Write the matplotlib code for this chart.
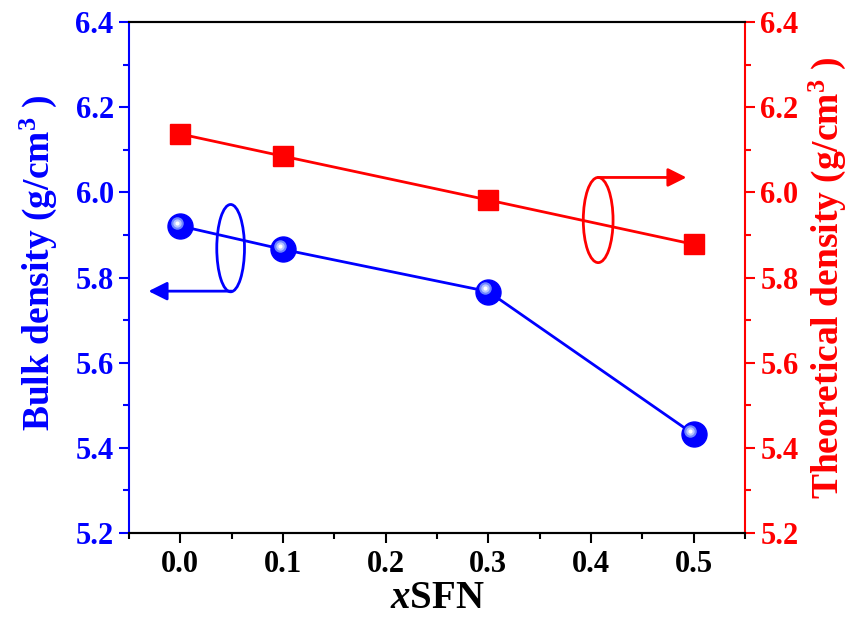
import matplotlib
matplotlib.use("Agg")
import matplotlib.pyplot as plt
import matplotlib.transforms as mtransforms
from matplotlib.patches import Ellipse
from matplotlib.ticker import MultipleLocator, FormatStrFormatter

plt.rcParams['font.family'] = ['Liberation Serif', 'DejaVu Serif']
plt.rcParams['font.weight'] = 'bold'
plt.rcParams['mathtext.fontset'] = 'custom'
plt.rcParams['mathtext.rm'] = 'Liberation Serif:bold'
plt.rcParams['mathtext.it'] = 'Liberation Serif:bold:italic'
plt.rcParams['mathtext.bf'] = 'Liberation Serif:bold'

x_sfn = [0.0, 0.1, 0.3, 0.5]
bulk_density = [5.921, 5.866, 5.767, 5.432]
theoretical_density = [6.137, 6.085, 5.982, 5.878]
xticks = [0.0, 0.1, 0.2, 0.3, 0.4, 0.5]
yticks = [5.2, 5.4, 5.6, 5.8, 6.0, 6.2, 6.4]

BLUE = '#0000ff'
RED = '#ff0000'

fig = plt.figure(figsize=(8.56, 6.24), dpi=100)
ax = fig.add_axes([0.1507, 0.1458, 0.7196, 0.8189])
ax2 = ax.twinx()

ax.set_xlim(-0.05, 0.55)
ax.set_ylim(5.2, 6.4)
ax2.set_ylim(5.2, 6.4)

# blue series with sphere-like markers
ax.plot(x_sfn, bulk_density, color=BLUE, lw=2, zorder=3)
ax.plot(x_sfn, bulk_density, ls='none', marker='o', ms=18, mfc=BLUE, mec=BLUE, zorder=4)
hl1 = mtransforms.offset_copy(ax.transData, fig=fig, x=-2.5, y=2.5, units='points')
ax.plot(x_sfn, bulk_density, ls='none', marker='o', ms=9, mfc='#6f86ff', mec='none', transform=hl1, zorder=5)
ax.plot(x_sfn, bulk_density, ls='none', marker='o', ms=6, mfc='#b8c6ff', mec='none', transform=hl1, zorder=6)
ax.plot(x_sfn, bulk_density, ls='none', marker='o', ms=3, mfc='#ffffff', mec='none', transform=hl1, zorder=7)

# red series
ax2.plot(x_sfn, theoretical_density, color=RED, lw=2, marker='s', ms=15,
         mfc=RED, mec=RED, zorder=3)

# ellipse + arrow annotations
ax.add_patch(Ellipse((0.049, 5.869), 0.027, 0.205, fill=False, ec=BLUE, lw=2, zorder=5))
ax.annotate('', xy=(-0.031, 5.768), xytext=(0.05, 5.768),
            arrowprops=dict(arrowstyle='-|>', color=BLUE, lw=2, mutation_scale=28,
                            shrinkA=0, shrinkB=0))
ax2.add_patch(Ellipse((0.407, 5.935), 0.029, 0.2, fill=False, ec=RED, lw=2, zorder=5))
ax2.annotate('', xy=(0.493, 6.035), xytext=(0.407, 6.035),
             arrowprops=dict(arrowstyle='-|>', color=RED, lw=2, mutation_scale=28,
                             shrinkA=0, shrinkB=0))

# ticks
ax.set_xticks(xticks)
ax.xaxis.set_minor_locator(MultipleLocator(0.05))
ax.xaxis.set_major_formatter(FormatStrFormatter('%.1f'))
ax.set_yticks(yticks)
ax.yaxis.set_minor_locator(MultipleLocator(0.1))
ax.yaxis.set_major_formatter(FormatStrFormatter('%.1f'))
ax2.set_yticks(yticks)
ax2.yaxis.set_minor_locator(MultipleLocator(0.1))
ax2.yaxis.set_major_formatter(FormatStrFormatter('%.1f'))

ax.tick_params(axis='x', which='major', direction='out', length=7, width=1.5, labelsize=22, pad=5, colors='black')
ax.tick_params(axis='x', which='minor', direction='out', length=4, width=1.5)
ax.tick_params(axis='y', which='major', direction='out', length=7, width=1.5, labelsize=22, pad=4, colors=BLUE)
ax.tick_params(axis='y', which='minor', direction='out', length=4, width=1.5, colors=BLUE)
ax2.tick_params(axis='y', which='major', direction='out', length=7, width=1.5, labelsize=22, pad=4, colors=RED)
ax2.tick_params(axis='y', which='minor', direction='out', length=4, width=1.5, colors=RED)

for a in (ax, ax2):
    for s in a.spines.values():
        s.set_linewidth(1.5)
ax.spines['left'].set_color(BLUE)
ax2.spines['left'].set_visible(False)
ax.spines['right'].set_visible(False)
ax2.spines['right'].set_color(RED)
for a in (ax, ax2):
    a.spines['top'].set_color('black')
    a.spines['bottom'].set_color('black')

for lab in ax.get_xticklabels() + ax.get_yticklabels() + ax2.get_yticklabels():
    lab.set_fontweight('bold')

ax.set_xlabel(r'$\mathit{x}$SFN', fontsize=28, fontweight='bold', labelpad=1)
ax.set_ylabel(r'Bulk density (g/cm$^{3}$ )', fontsize=27, fontweight='bold', color=BLUE, labelpad=12)
ax.yaxis.label.set_y(0.53)
ax2.set_ylabel(r'Theoretical density (g/cm$^{3}$ )', fontsize=27, fontweight='bold', color=RED, labelpad=6)

fig.savefig('out.png', dpi=100)
